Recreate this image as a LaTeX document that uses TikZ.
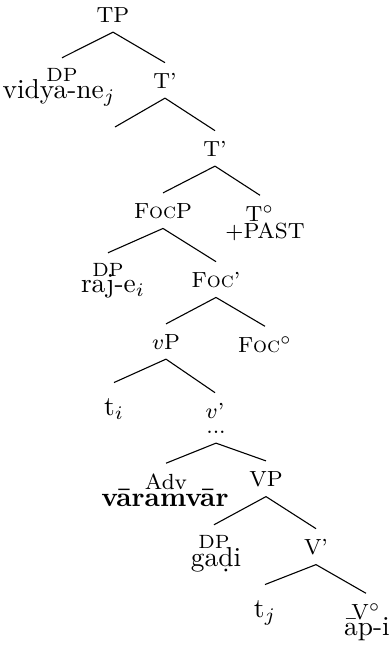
\documentclass[tikz,border=0pt]{standalone}
\begin{document}
\begin{tikzpicture}[x=0.365pt,y=-0.365pt,
  cat/.style={font=\footnotesize, inner xsep=1pt, inner ysep=3.5pt, anchor=base},
  subcat/.style={font=\scriptsize, inner xsep=1pt, inner ysep=3.5pt, anchor=base},
  word/.style={font=\normalsize, inner sep=0pt, anchor=base},
  branch/.style={line width=0.4pt}]
\useasboundingbox (0,0) rectangle (389,645);

% category labels and words
\node[cat] (tp) at (113,22) {TP};
\node[subcat] (dp1) at (62,81) {DP};
\node[word] (w1) at (59,98) {vidya-ne$_j$};
\node[cat] (t1) at (165,88) {T'};
\coordinate (e1) at (115,127);
\node[cat] (t2) at (215,156) {T'};
\node[cat] (focp) at (163,218) {F\textsc{oc}P};
\node[cat] (tdeg) at (260,221) {T$^\circ$};
\node[cat] (past) at (265,238) {+PAST};
\node[subcat] (dp2) at (108,276) {DP};
\node[word] (w2) at (113,292) {raj-e$_i$};
\node[cat] (focbar) at (216,287) {F\textsc{oc}'};
\node[cat] (vp) at (166,349) {$v$P};
\node[cat] (focdeg) at (265,352) {F\textsc{oc}$^\circ$};
\node[word] (ti) at (114,415) {t$_i$};
\node[cat] (vbar) at (215,418) {$v$'};
\node[cat] (dots) at (216,433) {...};
\node[cat] (adv) at (166,489) {Adv};
\node[word] (w3) at (165,506) {\textbf{v\=aramv\=ar}};
\node[cat] (vpbig) at (266,486) {VP};
\node[subcat] (dp3) at (214,548) {DP};
\node[word] (w4) at (216,566) {ga\d{d}i};
\node[cat] (vbarbig) at (316,554) {V'};
\node[word] (tj) at (265,617) {t$_j$};
\node[cat] (vdeg) at (366,619) {V$^\circ$};
\node[word] (w5) at (367,635) {\=ap-i};

% branches
\draw[branch] (tp.south) -- (dp1.north);
\draw[branch] (tp.south) -- (t1.north);
\draw[branch] (t1.south) -- (e1);
\draw[branch] (t1.south) -- (t2.north);
\draw[branch] (t2.south) -- (focp.north);
\draw[branch] (t2.south) -- (tdeg.north);
\draw[branch] (focp.south) -- (dp2.north);
\draw[branch] (focp.south) -- (focbar.north);
\draw[branch] (focbar.south) -- (vp.north);
\draw[branch] (focbar.south) -- (focdeg.north);
\draw[branch] (vp.south) -- ([yshift=5.5pt]ti.north);
\draw[branch] (vp.south) -- (vbar.north);
\draw[branch] (dots.south) -- (adv.north);
\draw[branch] (dots.south) -- (vpbig.north);
\draw[branch] (vpbig.south) -- (dp3.north);
\draw[branch] (vpbig.south) -- (vbarbig.north);
\draw[branch] (vbarbig.south) -- ([yshift=5.5pt]tj.north);
\draw[branch] (vbarbig.south) -- (vdeg.north);
\end{tikzpicture}
\end{document}
